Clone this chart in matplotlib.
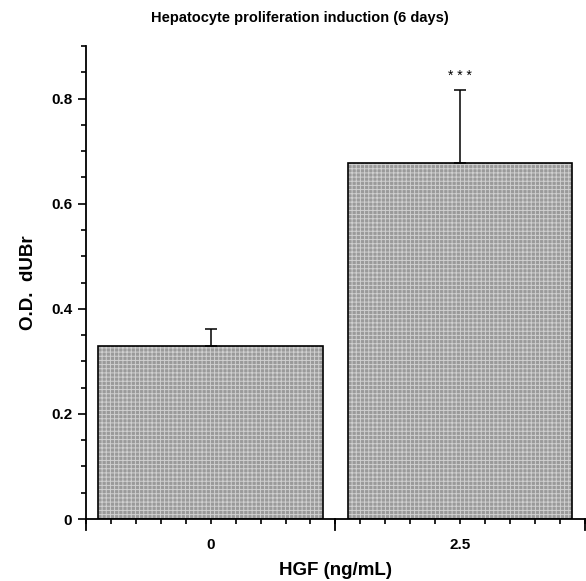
import matplotlib
matplotlib.use("Agg")
import matplotlib.pyplot as plt
from matplotlib.ticker import MultipleLocator

plt.rcParams['font.family'] = ['Liberation Sans', 'DejaVu Sans']
plt.rcParams['hatch.linewidth'] = 0.7

doses = ["0", "2.5"]
od_mean = [0.330, 0.678]
od_err = [0.031, 0.138]
signif = ["", "* * *"]

fig = plt.figure(figsize=(5.86, 5.81), dpi=100)
ax = fig.add_axes([0.1468, 0.1067, 0.8512, 0.8141])

pos = list(range(len(doses)))

# fill with the fine grey grid pattern, then outline
ax.bar(pos, od_mean, width=0.9, color="#9a9a9a", edgecolor="#d0d0d0",
       hatch="++++", linewidth=0, zorder=2)
ax.bar(pos, od_mean, width=0.9, fill=False, edgecolor="black",
       linewidth=1.2, zorder=3)
ax.errorbar(pos, od_mean, yerr=[[0] * len(pos), od_err], fmt="none",
            ecolor="black", elinewidth=1.1, capsize=4, capthick=1.1, zorder=4)

for p, m, e, s in zip(pos, od_mean, od_err, signif):
    if s:
        ax.text(p, m + e + 0.026, s, ha="center", va="center", fontsize=10)

ax.set_xlim(-0.5, 1.5)
ax.set_ylim(0, 0.9)

for side in ["top", "right"]:
    ax.spines[side].set_visible(False)
for side in ["left", "bottom"]:
    ax.spines[side].set_linewidth(1.3)

ax.set_xticks(pos)
ax.set_xticklabels(doses)
ax.xaxis.set_minor_locator(MultipleLocator(0.1))
ax.yaxis.set_minor_locator(MultipleLocator(0.05))
ax.set_yticks([0, 0.2, 0.4, 0.6, 0.8])
ax.set_yticklabels(["0", "0.2", "0.4", "0.6", "0.8"])

ax.tick_params(axis="x", which="major", length=3.5, width=1.2, pad=10,
               labelsize=11)
ax.tick_params(axis="x", which="minor", length=3.5, width=1.2)
ax.tick_params(axis="y", which="major", length=6, width=1.2, pad=4,
               labelsize=11)
ax.tick_params(axis="y", which="minor", length=3.5, width=1.2)
for lab in ax.get_xticklabels() + ax.get_yticklabels():
    lab.set_fontweight("bold")

# longer dividers at the category edges
for xb in [-0.5, 0.5, 1.5]:
    ax.plot([xb, xb], [0, -0.02], color="black", lw=1.3, clip_on=False,
            zorder=5)

ax.set_xlabel("HGF (ng/mL)", fontsize=13.5, fontweight="bold")
ax.xaxis.set_label_coords(0.5, -0.108)
ax.xaxis.label.set_va("center")
ax.set_ylabel("O.D.  dUBr", fontsize=13.5, fontweight="bold")
ax.yaxis.set_label_coords(-0.116, 0.5)
ax.yaxis.label.set_va("center")

fig.text(0.512, 0.969, "Hepatocyte proliferation induction (6 days)",
         ha="center", va="center", fontsize=10.5, fontweight="bold")

fig.savefig("out.png", dpi=100)
